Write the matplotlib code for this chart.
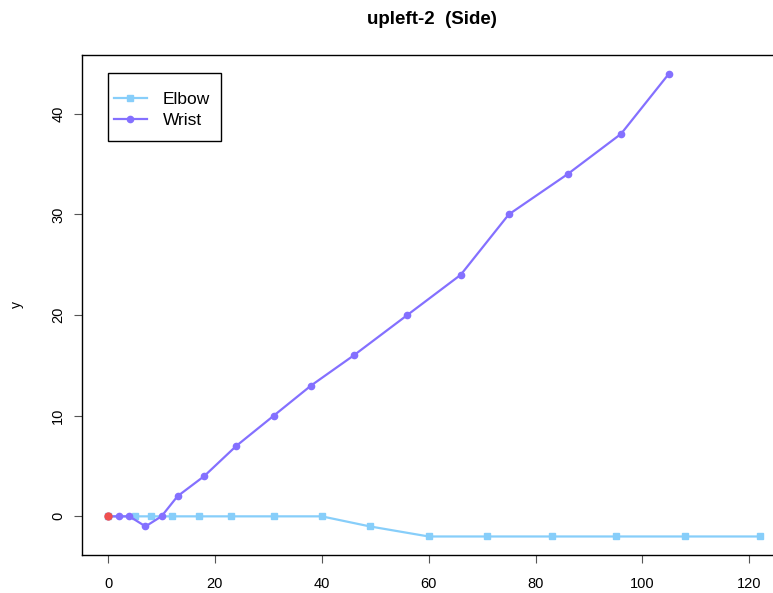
import numpy as np
import matplotlib
matplotlib.use("Agg")
import matplotlib.pyplot as plt
from matplotlib.patches import Rectangle

plt.rcParams['font.family'] = ['Liberation Sans', 'DejaVu Sans']

# data
elbow_x = [0, 5, 8, 12, 17, 23, 31, 40, 49, 60, 71, 83, 95, 108, 122]
elbow_y = [0, 0, 0, 0, 0, 0, 0, 0, -1, -2, -2, -2, -2, -2, -2]
wrist_x = [0, 2, 4, 7, 10, 13, 18, 24, 31, 38, 46, 56, 66, 75, 86, 96, 105]
wrist_y = [0, 0, 0, -1, 0, 2, 4, 7, 10, 13, 16, 20, 24, 30, 34, 38, 44]
start_x = [0]
start_y = [0]

elbow_col = '#87CEFA'
wrist_col = '#8470FF'

W, H = 773, 593
fig = plt.figure(figsize=(W/100, H/100), dpi=100)
ax = fig.add_axes([82/W, 1 - 555/H, (786 - 82)/W, (555 - 55)/H])

ax.plot(elbow_x, elbow_y, '-s', color=elbow_col, lw=1.6, ms=5, label='Elbow')
ax.plot(wrist_x, wrist_y, '-o', color=wrist_col, lw=1.6, ms=4.5, label='Wrist')
ax.plot(start_x, start_y, 'o', color='#F0504F', ms=5)

ax.set_xlim(-4.88, 126.88)
ax.set_ylim(-3.84, 45.84)
ax.set_xticks([0, 20, 40, 60, 80, 100, 120])
ax.set_yticks([0, 10, 20, 30, 40])
ax.tick_params(labelsize=10.5, length=6, width=0.8, color='#555555')
ax.tick_params(axis='x', pad=10)
ax.tick_params(axis='y', pad=6)
for lab in ax.get_yticklabels():
    lab.set_rotation(90)
    lab.set_va('center')
ax.set_ylabel('y', fontsize=10, labelpad=20)
for s in ax.spines.values():
    s.set_linewidth(1.0)

fig.text(432/W, 1 - 20/H, 'upleft-2  (Side)', ha='center', va='center',
         fontsize=13.5, fontweight='bold')

# legend: box drawn separately, entries without frame
box = Rectangle((108/W, 1 - 141/H), 113/W, 68/H, transform=fig.transFigure,
                facecolor='white', edgecolor='black', lw=1.0, zorder=5, clip_on=False)
ax.add_patch(box)
leg = ax.legend(loc='upper left', bbox_to_anchor=(114/W, 1 - 92/H),
                bbox_transform=fig.transFigure, fontsize=12.5, frameon=False,
                borderaxespad=0, borderpad=0, handlelength=1.9, labelspacing=0.32,
                handletextpad=0.92)
leg.set_zorder(6)

fig.savefig('out.png', dpi=100)
